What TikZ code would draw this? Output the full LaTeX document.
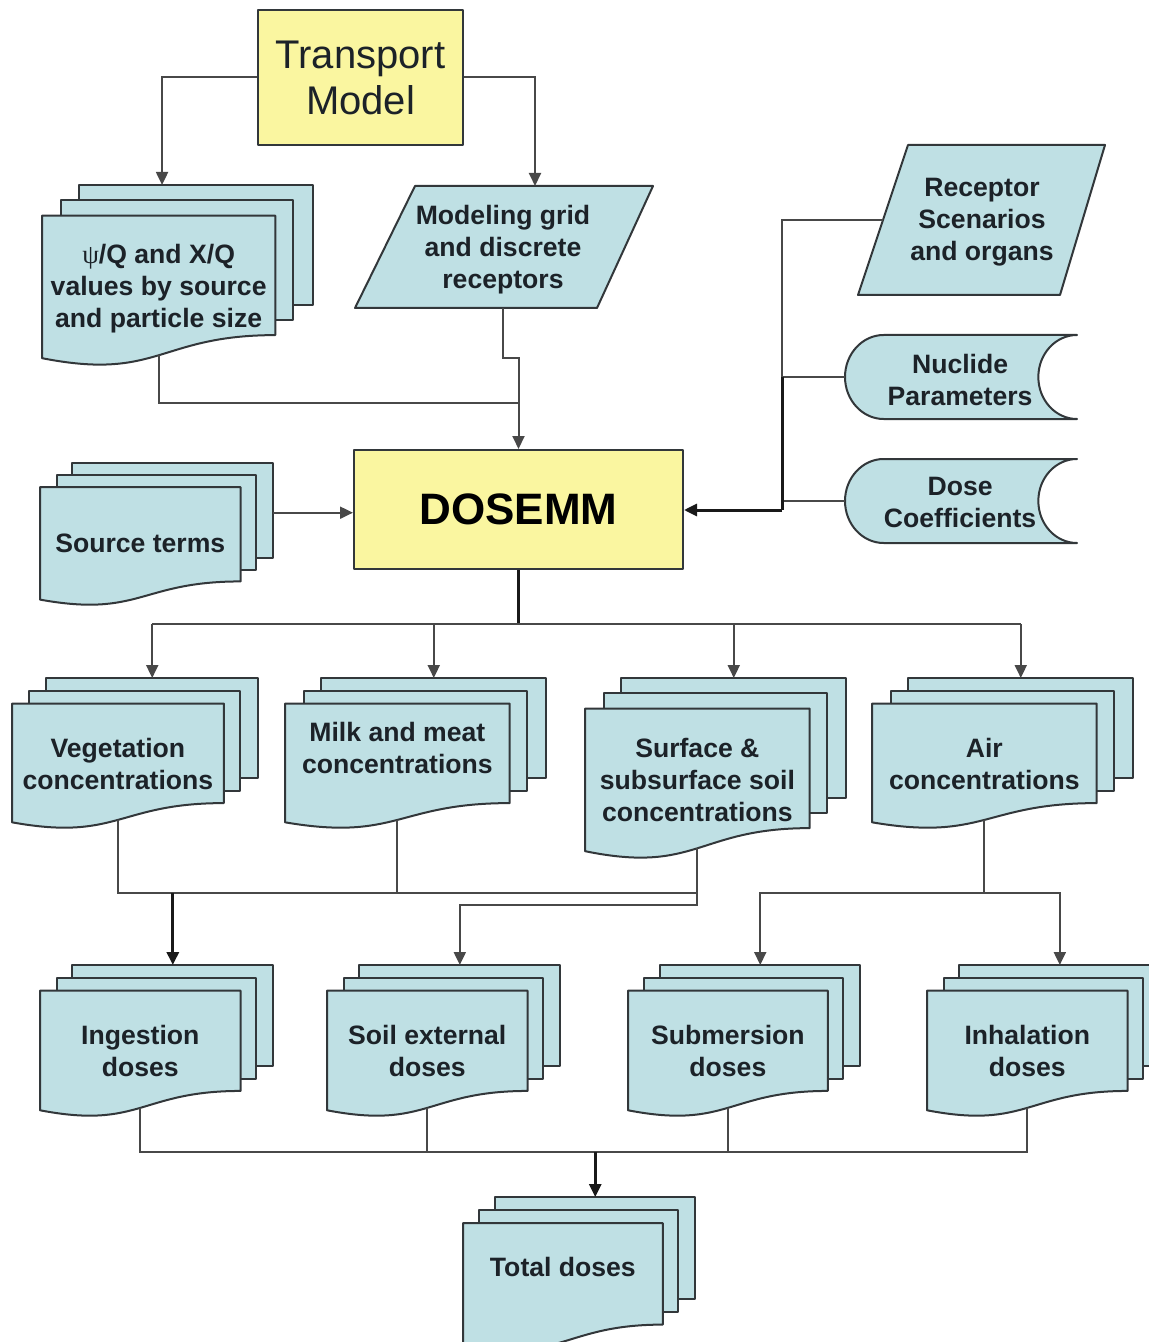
\documentclass[tikz,border=0pt]{standalone}
\usepackage{fontspec}
\setmainfont{Liberation Sans}
\newfontfamily\symfont{Liberation Serif}
\usetikzlibrary{arrows.meta,calc}
\definecolor{docfill}{RGB}{191,224,228}
\definecolor{procfill}{RGB}{250,246,160}
\definecolor{edgec}{RGB}{50,55,58}
\definecolor{linec}{RGB}{72,72,72}
\definecolor{txt}{RGB}{28,34,40}
\tikzset{
  shapeline/.style={draw=edgec, line width=1pt, line join=round},
  docpage/.style={shapeline, fill=docfill},
  proc/.style={shapeline, fill=procfill, inner sep=0pt},
  lbl/.style={font=\fontsize{13.3}{16}\selectfont\bfseries, text=txt, align=center, inner sep=0pt},
  conn/.style={draw=linec, line width=1pt},
  heavy/.style={draw=black!90, line width=1.5pt},
  arr/.style={-{Triangle[length=6.5pt,width=6pt]}},
}
% #1 name, #2 x, #3 y, #4 W, #5 H, #6 in-fraction, #7 text rel y, #8 text
\newcommand\mdoc[8]{%
  \begin{scope}[shift={(#2,#3)},xscale=#4,yscale=#5]
    \path[docpage] (0.1376,0) rectangle (1,0.666);
    \path[docpage] (0.0709,0.084) rectangle (0.926,0.752);
    \path[docpage] (0,0.170) -- (0.861,0.170) -- (0.861,0.834)
      .. controls (0.4305,0.834) and (0.4305,1.09) .. (0,0.962) -- cycle;
    \node[lbl] (#1) at (0.4305,#7) {#8};
    \coordinate (#1-in) at (#6,0);
    \coordinate (#1-out) at (0.4305,0.946);
    \coordinate (#1-e) at (1,0.35);
  \end{scope}}
% #1 name, #2 y, #3 H, #4 text rel y, #5 text
\newcommand\storedata[5]{%
  \begin{scope}[shift={(845,#2)},xscale=232,yscale=#3]
    \path[docpage] (0.1667,0) -- (1,0)
      .. controls (0.908,0) and (0.8333,0.224) .. (0.8333,0.5)
      .. controls (0.8333,0.776) and (0.908,1) .. (1,1)
      -- (0.1667,1)
      .. controls (0.075,1) and (0,0.776) .. (0,0.5)
      .. controls (0,0.224) and (0.075,0) .. (0.1667,0) -- cycle;
    \node[lbl] (#1) at (0.496,#4) {#5};
    \coordinate (#1-w) at (0,0.5);
  \end{scope}}
\begin{document}
\begin{tikzpicture}[x=0.5pt,y=-0.5pt]
\useasboundingbox (0,0) rectangle (1149,1342);
\clip (0,0) rectangle (1149,1342);

% ---- process boxes
\node[proc, minimum width=102.5pt, minimum height=67.5pt,
      font=\fontsize{20}{23}\selectfont, text=txt, align=center]
      (tm) at (360.5,77.5) {Transport\\Model};
\node[proc, minimum width=164.5pt, minimum height=59.5pt,
      font=\fontsize{22}{26}\selectfont\bfseries, text=black]
      (dosemm) at (518.5,509.5) {DOSEMM};

% ---- inputs
\mdoc{psi}{42}{185}{271}{180}{0.443}{0.578}{{\symfont\mdseries ψ}/Q and X/Q\\values by source\\and particle size}
\path[docpage] (415,186) -- (653,186) -- (597,308) -- (355,308) -- cycle;
\node[lbl] (grid) at (503,250) {Modeling grid\\and discrete\\receptors};
\coordinate (grid-in) at (535,186);
\coordinate (grid-out) at (503,308);

\mdoc{src}{40}{463}{233}{142}{0.57}{0.563}{Source terms}

\path[docpage] (908,145) -- (1105,145) -- (1060,295) -- (858,295) -- cycle;
\node[lbl] (rec) at (982,222) {Receptor\\Scenarios\\and organs};
\coordinate (rec-w) at (883,220);

\storedata{nuc}{335}{84}{0.536}{Nuclide\\Parameters}
\storedata{dcf}{459}{84}{0.52}{Dose\\Coefficients}

% ---- concentrations
\mdoc{veg}{12}{678}{246}{150}{0.57}{0.573}{Vegetation\\concentrations}
\mdoc{milk}{285}{678}{261}{150}{0.57}{0.467}{Milk and meat\\concentrations}
\mdoc{soil}{585}{678}{261}{180}{0.57}{0.567}{Surface \&\\subsurface soil\\concentrations}
\mdoc{air}{872}{678}{261}{150}{0.57}{0.573}{Air\\concentrations}

% ---- doses
\mdoc{ing}{40}{965}{233}{151}{0.57}{0.57}{Ingestion\\doses}
\mdoc{soilx}{327}{965}{233}{151}{0.57}{0.57}{Soil external\\doses}
\mdoc{sub}{628}{965}{232}{151}{0.57}{0.57}{Submersion\\doses}
\mdoc{inh}{927}{965}{233}{151}{0.57}{0.57}{Inhalation\\doses}

\mdoc{total}{463}{1197}{232}{153}{0.57}{0.458}{Total doses}

% ---- connectors: top
\draw[conn,arr] (tm.west) -| (psi-in);
\draw[conn,arr] (tm.east) -| (grid-in);
\draw[conn] (psi-out) |- ($(dosemm.north)+(0,-46)$);
\draw[conn,arr] (grid-out) -- ++(0,50) -| (dosemm.north);
\draw[conn,arr] (src-e) -- (src-e -| dosemm.west);

% ---- right-hand inputs
\coordinate (bus) at (782,510);
\draw[conn] (rec-w) -| (nuc-w -| bus);
\draw[conn] (nuc-w) -- (nuc-w -| bus);
\draw[conn] (dcf-w) -- (dcf-w -| bus);
\draw[heavy] (nuc-w -| bus) -- (bus);
\draw[heavy,arr] (bus) -- (bus -| dosemm.east);

% ---- DOSEMM to concentrations
\draw[heavy] (dosemm.south) -- ++(0,54) coordinate (busB);
\draw[conn] (veg-in |- busB) -- (air-in |- busB);
\draw[conn,arr] (veg-in |- busB) -- (veg-in);
\draw[conn,arr] (milk-in |- busB) -- (milk-in);
\draw[conn,arr] (soil-in |- busB) -- (soil-in);
\draw[conn,arr] (air-in |- busB) -- (air-in);

% ---- concentrations to doses
\coordinate (yC) at (0,893);
\coordinate (yD) at (0,905);
\coordinate (yE) at (0,1152);
\draw[conn] (veg-out) |- (soil-out |- yC);
\draw[conn] (milk-out) -- (milk-out |- yC);
\draw[conn,arr] (soil-out) -- (soil-out |- yD) -| (soilx-in);
\draw[heavy,arr] (ing-in |- yC) -- (ing-in);
\draw[conn] (air-out) -- (air-out |- yC);
\draw[conn,arr] (air-out |- yC) -| (sub-in);
\draw[conn,arr] (air-out |- yC) -| (inh-in);

% ---- doses to total
\draw[conn] (ing-out) |- (inh-out |- yE) -- (inh-out);
\draw[conn] (soilx-out) -- (soilx-out |- yE);
\draw[conn] (sub-out) -- (sub-out |- yE);
\draw[heavy,arr] (total-in |- yE) -- (total-in);
\end{tikzpicture}
\end{document}
